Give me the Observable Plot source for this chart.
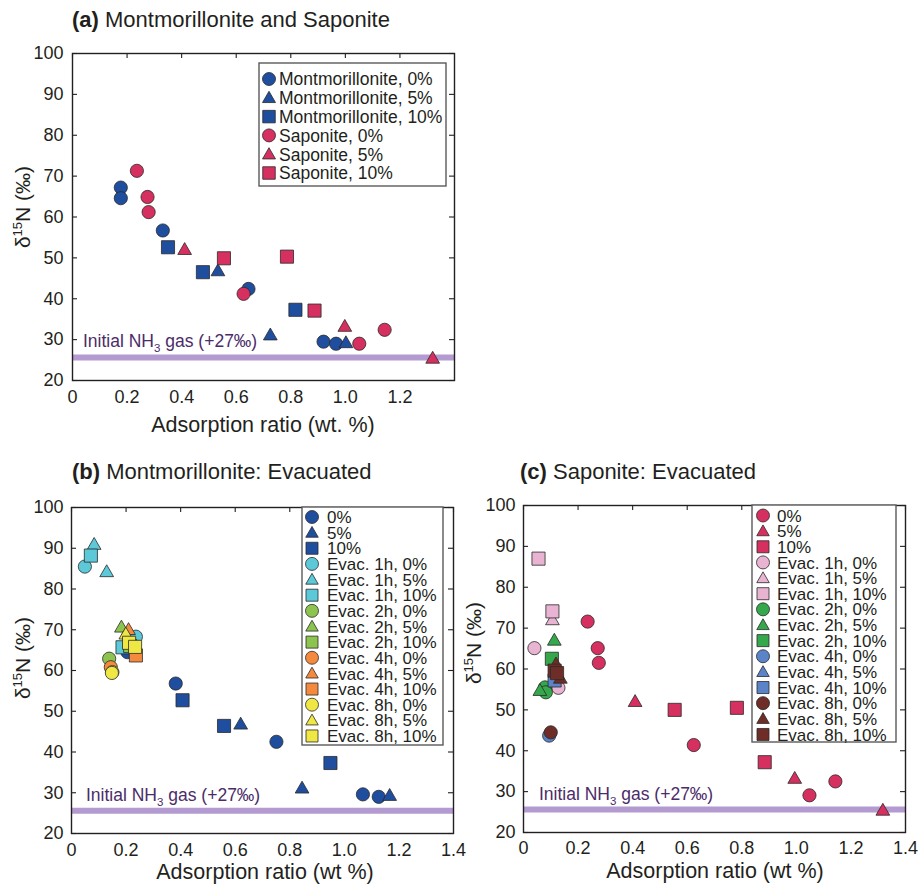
<!DOCTYPE html>
<html>
<head>
<meta charset="utf-8">
<script src="https://cdn.jsdelivr.net/npm/d3@7"></script>
<script src="https://cdn.jsdelivr.net/npm/@observablehq/plot@0.6"></script>
<style>
  body { margin: 0; background: #ffffff; }
  #root { position: relative; width: 921px; height: 886px; overflow: hidden; background: #fff; }
  #root svg { position: absolute; }
</style>
</head>
<body>
<div id="root"></div>
<script>
// ---------------- DATA ----------------
const xTicksA = [0, 0.2, 0.4, 0.6, 0.8, 1.0, 1.2];
const xTicksBC = [0, 0.2, 0.4, 0.6, 0.8, 1.0, 1.2, 1.4];
const yTicks = [20, 30, 40, 50, 60, 70, 80, 90, 100];
const initialNH3 = 25.6;
const initialLabel = ["Initial NH", "3", " gas (+27‰)"];
const panelTags = ["(a)", "(b)", "(c)"];
const panelTitles = ["Montmorillonite and Saponite", "Montmorillonite: Evacuated", "Saponite: Evacuated"];
const xLabels = ["Adsorption ratio (wt. %)", "Adsorption ratio (wt %)", "Adsorption ratio (wt %)"];
const shapeCycle = ["circle", "triangle", "square"];

// Panel (a)
const aMont0 = [[0.177, 67.2], [0.177, 64.6], [0.331, 56.7], [0.645, 42.4], [0.920, 29.5], [0.966, 29.0]];
const aMont5 = [[0.533, 46.6], [0.725, 30.9], [1.002, 29.0]];
const aMont10 = [[0.350, 52.6], [0.478, 46.5], [0.817, 37.3]];
const aSap0 = [[0.236, 71.3], [0.275, 64.9], [0.279, 61.2], [0.627, 41.2], [1.051, 29.0], [1.144, 32.4]];
const aSap5 = [[0.411, 51.8], [0.998, 33.0], [1.320, 25.2]];
const aSap10 = [[0.555, 49.9], [0.786, 50.3], [0.887, 37.1]];
const aNames = ["Montmorillonite, 0%", "Montmorillonite, 5%", "Montmorillonite, 10%", "Saponite, 0%", "Saponite, 5%", "Saponite, 10%"];

// Panel (b)
const bBase0 = [[0.205, 64.5], [0.382, 56.8], [0.751, 42.5], [1.068, 29.6], [1.126, 29.0]];
const bBase5 = [[0.620, 46.6], [0.845, 30.9], [1.166, 29.1]];
const bBase10 = [[0.407, 52.7], [0.559, 46.4], [0.949, 37.3]];
const bEv1h0 = [[0.049, 85.5], [0.236, 68.3]];
const bEv1h5 = [[0.083, 90.7], [0.129, 84.0]];
const bEv1h10 = [[0.071, 88.2], [0.187, 65.7]];
const bEv2h0 = [[0.138, 62.9]];
const bEv2h5 = [[0.183, 70.4]];
const bEv2h10 = [[0.215, 66.0]];
const bEv4h0 = [[0.144, 60.8]];
const bEv4h5 = [[0.209, 69.8]];
const bEv4h10 = [[0.236, 63.7]];
const bEv8h0 = [[0.150, 59.6], [0.148, 59.4]];
const bEv8h5 = [[0.199, 68.7]];
const bEv8h10 = [[0.211, 66.8], [0.233, 65.8]];

// Panel (c)
const cBase0 = [[0.235, 71.6], [0.272, 65.1], [0.276, 61.5], [0.624, 41.4], [1.048, 29.1], [1.143, 32.5]];
const cBase5 = [[0.409, 51.8], [0.994, 33.0], [1.317, 25.2]];
const cBase10 = [[0.554, 50.0], [0.782, 50.5], [0.884, 37.2]];
const cEv1h0 = [[0.040, 65.1], [0.128, 55.4]];
const cEv1h5 = [[0.106, 71.8]];
const cEv1h10 = [[0.055, 87.0], [0.106, 74.1]];
const cEv2h0 = [[0.079, 55.5], [0.082, 54.3]];
const cEv2h5 = [[0.060, 54.5], [0.113, 66.8]];
const cEv2h10 = [[0.104, 62.5]];
const cEv4h0 = [[0.094, 43.7]];
const cEv4h5 = [];
const cEv4h10 = [[0.114, 57.2]];
const cEv8h0 = [[0.100, 44.5]];
const cEv8h5 = [[0.119, 61.0], [0.135, 57.5]];
const cEv8h10 = [[0.114, 59.6], [0.123, 59.0]];

const evacNames = ["0%", "5%", "10%",
  "Evac. 1h, 0%", "Evac. 1h, 5%", "Evac. 1h, 10%",
  "Evac. 2h, 0%", "Evac. 2h, 5%", "Evac. 2h, 10%",
  "Evac. 4h, 0%", "Evac. 4h, 5%", "Evac. 4h, 10%",
  "Evac. 8h, 0%", "Evac. 8h, 5%", "Evac. 8h, 10%"];

// ---------------- STYLE ----------------
const FONT = "'Liberation Sans', Arial, Helvetica, sans-serif";
const ink = "#231f20";
const blue = "#1f4e9f";
const red = "#d5305f";
const lineColor = "#b39ad0";
const labelColor = "#4b2c69";
const aColors = [blue, blue, blue, red, red, red];
const bColors = [blue, blue, blue, "#5cc8d8", "#5cc8d8", "#5cc8d8", "#8dc44f", "#8dc44f", "#8dc44f", "#f48a3e", "#f48a3e", "#f48a3e", "#efe743", "#efe743", "#efe743"];
const cColors = [red, red, red, "#e8b4d2", "#e8b4d2", "#e8b4d2", "#34a84b", "#34a84b", "#34a84b", "#5b84c8", "#5b84c8", "#5b84c8", "#6e2e27", "#6e2e27", "#6e2e27"];
const aData = [aMont0, aMont5, aMont10, aSap0, aSap5, aSap10];
const bData = [bBase0, bBase5, bBase10, bEv1h0, bEv1h5, bEv1h10, bEv2h0, bEv2h5, bEv2h10, bEv4h0, bEv4h5, bEv4h10, bEv8h0, bEv8h5, bEv8h10];
const cData = [cBase0, cBase5, cBase10, cEv1h0, cEv1h5, cEv1h10, cEv2h0, cEv2h5, cEv2h10, cEv4h0, cEv4h5, cEv4h10, cEv8h0, cEv8h5, cEv8h10];

const symR = {circle: 6.6, triangle: 5.1, square: 7.4};
const tickLen = 5;
const root = d3.select("#root");

function panel(cfg) {
  const {left, top, width, height, mL, mT, mR, mB, data, colors, xTicks, padX, padY} = cfg;
  const innerW = width - mL - mR, innerH = height - mT - mB;
  const marks = [
    Plot.ruleY([initialNH3], {y: d => d, stroke: lineColor, strokeWidth: 6}),
    Plot.tickX(xTicks, {x: d => d, insetBottom: innerH - tickLen, stroke: ink, strokeWidth: 1.1}),
    Plot.tickY(yTicks, {y: d => d, insetRight: innerW - tickLen, stroke: ink, strokeWidth: 1.1}),
    Plot.tickY(yTicks, {y: d => d, insetLeft: innerW - tickLen, stroke: ink, strokeWidth: 1.1}),
    Plot.axisX({ticks: xTicks, tickSize: 0, tickPadding: padX, label: null,
      tickFormat: d => d === 0 ? "0" : d.toFixed(1)}),
    Plot.axisY({ticks: yTicks, tickSize: 0, tickPadding: padY, label: null, tickFormat: d => String(d)})
  ];
  data.forEach((pts, i) => {
    const shape = shapeCycle[i % 3];
    marks.push(Plot.dot(pts, {x: d => d[0], y: d => d[1], symbol: shape, r: symR[shape],
      fill: colors[i], stroke: "#2a2a2a", strokeWidth: 0.8}));
  });
  marks.push(Plot.frame({stroke: ink, strokeWidth: 1.4}));
  const svg = Plot.plot({
    width, height, marginLeft: mL, marginTop: mT, marginRight: mR, marginBottom: mB,
    x: {domain: [0, 1.4], label: null},
    y: {domain: [20, 100], label: null},
    style: {fontFamily: FONT, fontSize: "18px", color: ink, background: "transparent", overflow: "visible"},
    marks
  });
  svg.style.left = left + "px";
  svg.style.top = top + "px";
  root.node().appendChild(svg);
}

// Panel frames (page px): a: 72..454 x 53..380; b: 71..453 x 507..833; c: 523..905 x 505..832
panel({left: 0, top: 0, width: 460, height: 420, mL: 72, mT: 53, mR: 6, mB: 40, data: aData, colors: aColors, xTicks: xTicksA, padX: 10, padY: 9});
panel({left: 0, top: 460, width: 460, height: 426, mL: 71, mT: 47, mR: 7, mB: 53, data: bData, colors: bColors, xTicks: xTicksBC, padX: 10, padY: 8});
panel({left: 460, top: 460, width: 461, height: 426, mL: 63, mT: 45, mR: 16, mB: 54, data: cData, colors: cColors, xTicks: xTicksBC, padX: 9, padY: 8});

// ---------------- OVERLAY TEXT & LEGENDS ----------------
const ov = root.append("svg").attr("width", 921).attr("height", 886)
  .style("left", "0px").style("top", "0px").attr("font-family", FONT).attr("fill", ink);

function title(x, y, i) {
  const t = ov.append("text").attr("x", x).attr("y", y).attr("font-size", 22);
  t.append("tspan").attr("font-weight", "bold").text(panelTags[i]);
  t.append("tspan").text(" " + panelTitles[i]);
}
title(72, 27, 0);
title(72, 479, 1);
title(520, 479, 2);

function yLabel(x, y) {
  const t = ov.append("text").attr("transform", `translate(${x},${y}) rotate(-90)`)
    .attr("text-anchor", "middle").attr("font-size", 21);
  t.append("tspan").text("δ");
  t.append("tspan").attr("font-size", 13).attr("dy", -8).text("15");
  t.append("tspan").attr("dy", 8).text("N (‰)");
}
yLabel(30, 207);
yLabel(30, 658);
yLabel(481, 643);

function xLabel(x, y, i) {
  ov.append("text").attr("x", x).attr("y", y).attr("text-anchor", "middle").attr("font-size", 21.5).text(xLabels[i]);
}
xLabel(263, 432, 0);
xLabel(265, 879, 1);
xLabel(715, 878, 2);

function nh3(x, y) {
  const t = ov.append("text").attr("x", x).attr("y", y).attr("font-size", 17.5).attr("fill", labelColor);
  t.append("tspan").text(initialLabel[0]);
  t.append("tspan").attr("font-size", 11.5).attr("dy", 5).text(initialLabel[1]);
  t.append("tspan").attr("dy", -5).text(initialLabel[2]);
}
nh3(83, 347);
nh3(86, 801);
nh3(539, 800);

function symbolPath(shape, s) {
  if (shape === "circle") return d3.symbol(d3.symbolCircle, Math.PI * s * s / 4)();
  if (shape === "square") return d3.symbol(d3.symbolSquare, s * s)();
  return d3.symbol(d3.symbolTriangle, Math.sqrt(3) / 4 * s * s)();
}

function legend(cfg) {
  const {x, y, w, h, names, colors, row0, dy, symX, textX, fs, sym} = cfg;
  ov.append("rect").attr("x", x).attr("y", y).attr("width", w).attr("height", h)
    .attr("fill", "#fff").attr("stroke", "#5a5a5a").attr("stroke-width", 1.4);
  names.forEach((n, i) => {
    const cy = row0 + dy * i;
    const shape = shapeCycle[i % 3];
    const s = shape === "circle" ? sym.c : shape === "square" ? sym.s : sym.t;
    ov.append("path").attr("d", symbolPath(shape, s))
      .attr("transform", `translate(${symX},${cy + (shape === "triangle" ? 1 : 0)})`)
      .attr("fill", colors[i]).attr("stroke", "#2a2a2a").attr("stroke-width", 0.8);
    ov.append("text").attr("x", textX).attr("y", cy).attr("dy", "0.36em").attr("font-size", fs).text(n);
  });
}
legend({x: 259, y: 63, w: 187, h: 123, names: aNames, colors: aColors, row0: 79, dy: 18.8, symX: 269, textX: 279, fs: 17.5, sym: {c: 13, s: 12.5, t: 13}});
legend({x: 302, y: 507, w: 141, h: 238, names: evacNames, colors: bColors, row0: 517, dy: 15.64, symX: 312, textX: 327, fs: 17, sym: {c: 13, s: 12, t: 12.5}});
legend({x: 752, y: 505, w: 144, h: 237, names: evacNames, colors: cColors, row0: 515.5, dy: 15.64, symX: 763, textX: 777, fs: 17, sym: {c: 13, s: 12, t: 12.5}});
</script>
</body>
</html>
